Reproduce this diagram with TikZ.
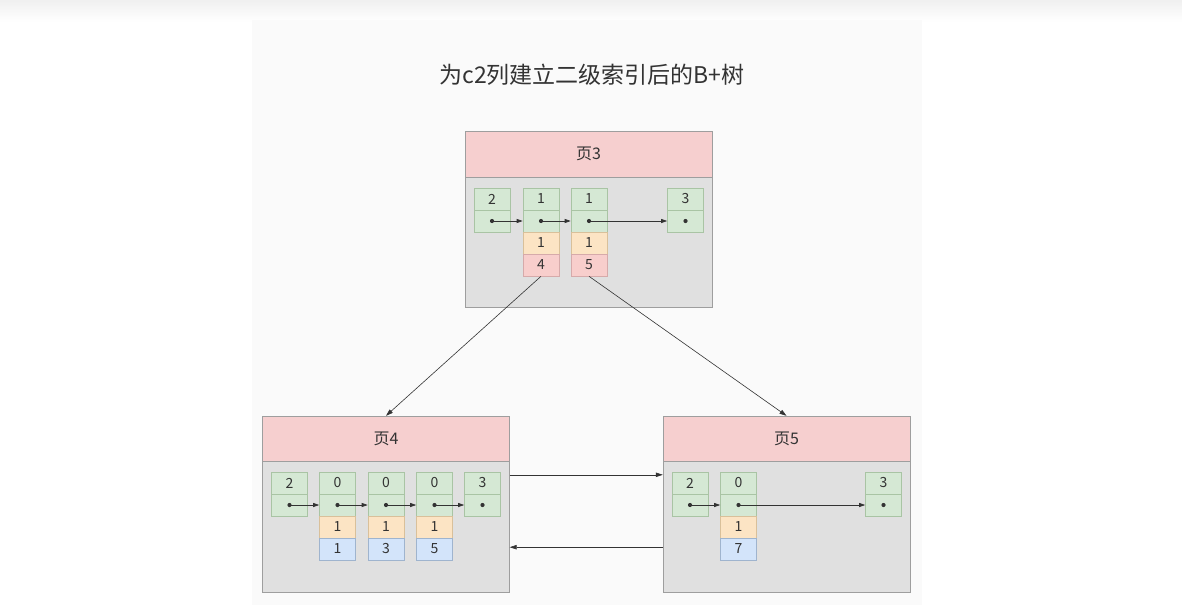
\documentclass[tikz,border=0pt]{standalone}
\usepackage{fontspec}
\setmainfont{Noto Sans CJK SC}
\usetikzlibrary{arrows.meta}
\definecolor{panelbg}{HTML}{FAFAFA}
\definecolor{pagebg}{HTML}{E0E0E0}
\definecolor{pageline}{HTML}{9E9E9E}
\definecolor{headpink}{HTML}{F6CFCF}
\definecolor{cellgreen}{HTML}{D5E8D4}
\definecolor{linegreen}{HTML}{A9C4A4}
\definecolor{cellyellow}{HTML}{FCE4C4}
\definecolor{lineyellow}{HTML}{D9C09A}
\definecolor{cellpink}{HTML}{F8CECC}
\definecolor{linepink}{HTML}{D6AAAA}
\definecolor{cellblue}{HTML}{D3E4FA}
\definecolor{lineblue}{HTML}{9FB4CE}
\definecolor{inkgray}{HTML}{333333}
\tikzset{
  pagehead/.style={draw=pageline, fill=headpink, minimum width=247pt, minimum height=46pt, inner sep=0pt, font=\fontsize{16}{18}\selectfont, text=inkgray},
  pagebody/.style={draw=pageline, fill=pagebg, minimum width=247pt, inner sep=0pt},
  cellg/.style={draw=linegreen, fill=cellgreen, minimum width=36pt, minimum height=22pt, inner sep=0pt, line width=0.6pt, font=\fontsize{14}{16}\selectfont, text=inkgray},
  celly/.style={cellg, draw=lineyellow, fill=cellyellow},
  cellr/.style={cellg, draw=linepink, fill=cellpink},
  cellb/.style={cellg, draw=lineblue, fill=cellblue},
  dot/.style={fill=inkgray},
  ptr/.style={draw=inkgray, line width=0.7pt, -{Triangle[length=6pt,width=4pt]}},
  link/.style={draw=inkgray, line width=0.6pt, -{Triangle[length=7pt,width=4.5pt]}}
}
\begin{document}
\begin{tikzpicture}[x=1pt,y=-1pt]
  \useasboundingbox (0,0) rectangle (1182,615);
  \fill[top color=black!6, bottom color=white] (0,0) rectangle (1182,22);
  \fill[panelbg] (252,20) rectangle (922,605);
  \node[text=inkgray, font=\fontsize{23}{27}\selectfont] (title) at (592,75) {为c2列建立二级索引后的B+树};

  % page 3
  \node[pagebody, minimum height=130pt] (b3) at (588.5,242) {};
  \node[pagehead] (h3) at (588.5,154) {页3};
  \node[cellg] (p3a1) at (492,199) {2};
  \node[cellg] (p3a2) at (492,221) {};
  \node[cellg] (p3b1) at (541,199) {1};
  \node[cellg] (p3b2) at (541,221) {};
  \node[celly] (p3b3) at (541,243) {1};
  \node[cellr] (p3b4) at (541,265) {4};
  \node[cellg] (p3c1) at (589,199) {1};
  \node[cellg] (p3c2) at (589,221) {};
  \node[celly] (p3c3) at (589,243) {1};
  \node[cellr] (p3c4) at (589,265) {5};
  \node[cellg] (p3d1) at (685.5,199) {3};
  \node[cellg] (p3d2) at (685.5,221) {};
  \fill[dot] (p3a2) circle[radius=2.1pt];
  \fill[dot] (p3b2) circle[radius=2.1pt];
  \fill[dot] (p3c2) circle[radius=2.1pt];
  \fill[dot] (p3d2) circle[radius=2.1pt];
  \draw[ptr] (p3a2.center) -- (p3b2.west);
  \draw[ptr] (p3b2.center) -- (p3c2.west);
  \draw[ptr] (p3c2.center) -- (p3d2.west);

  % page 4
  \node[pagebody, minimum height=131pt] (b4) at (386,526.5) {};
  \node[pagehead, minimum height=45pt] (h4) at (386,438.5) {页4};
  \node[cellg] (p4a1) at (289.5,483) {2};
  \node[cellg] (p4a2) at (289.5,505) {};
  \node[cellg] (p4b1) at (337.5,483) {0};
  \node[cellg] (p4b2) at (337.5,505) {};
  \node[celly] (p4b3) at (337.5,527) {1};
  \node[cellb] (p4b4) at (337.5,549) {1};
  \node[cellg] (p4c1) at (386,483) {0};
  \node[cellg] (p4c2) at (386,505) {};
  \node[celly] (p4c3) at (386,527) {1};
  \node[cellb] (p4c4) at (386,549) {3};
  \node[cellg] (p4d1) at (434.5,483) {0};
  \node[cellg] (p4d2) at (434.5,505) {};
  \node[celly] (p4d3) at (434.5,527) {1};
  \node[cellb] (p4d4) at (434.5,549) {5};
  \node[cellg] (p4e1) at (482.5,483) {3};
  \node[cellg] (p4e2) at (482.5,505) {};
  \fill[dot] (p4a2) circle[radius=2.1pt];
  \fill[dot] (p4b2) circle[radius=2.1pt];
  \fill[dot] (p4c2) circle[radius=2.1pt];
  \fill[dot] (p4d2) circle[radius=2.1pt];
  \fill[dot] (p4e2) circle[radius=2.1pt];
  \draw[ptr] (p4a2.center) -- (p4b2.west);
  \draw[ptr] (p4b2.center) -- (p4c2.west);
  \draw[ptr] (p4c2.center) -- (p4d2.west);
  \draw[ptr] (p4d2.center) -- (p4e2.west);

  % page 5
  \node[pagebody, minimum height=131pt] (b5) at (786.5,526.5) {};
  \node[pagehead, minimum height=45pt] (h5) at (786.5,438.5) {页5};
  \node[cellg] (p5a1) at (690,483) {2};
  \node[cellg] (p5a2) at (690,505) {};
  \node[cellg] (p5b1) at (738.5,483) {0};
  \node[cellg] (p5b2) at (738.5,505) {};
  \node[celly] (p5b3) at (738.5,527) {1};
  \node[cellb] (p5b4) at (738.5,549) {7};
  \node[cellg] (p5c1) at (883.5,483) {3};
  \node[cellg] (p5c2) at (883.5,505) {};
  \fill[dot] (p5a2) circle[radius=2.1pt];
  \fill[dot] (p5b2) circle[radius=2.1pt];
  \fill[dot] (p5c2) circle[radius=2.1pt];
  \draw[ptr] (p5a2.center) -- (p5b2.west);
  \draw[ptr] (p5b2.center) -- (p5c2.west);

  % links between pages
  \draw[link] (p3b4.south) -- (h4.north);
  \draw[link] (p3c4.south) -- (h5.north);
  \draw[link] ([yshift=-14pt]b4.north east) -- ([yshift=-14pt]b5.north west);
  \draw[link] ([yshift=45pt]b5.south west) -- ([yshift=45pt]b4.south east);
\end{tikzpicture}
\end{document}
